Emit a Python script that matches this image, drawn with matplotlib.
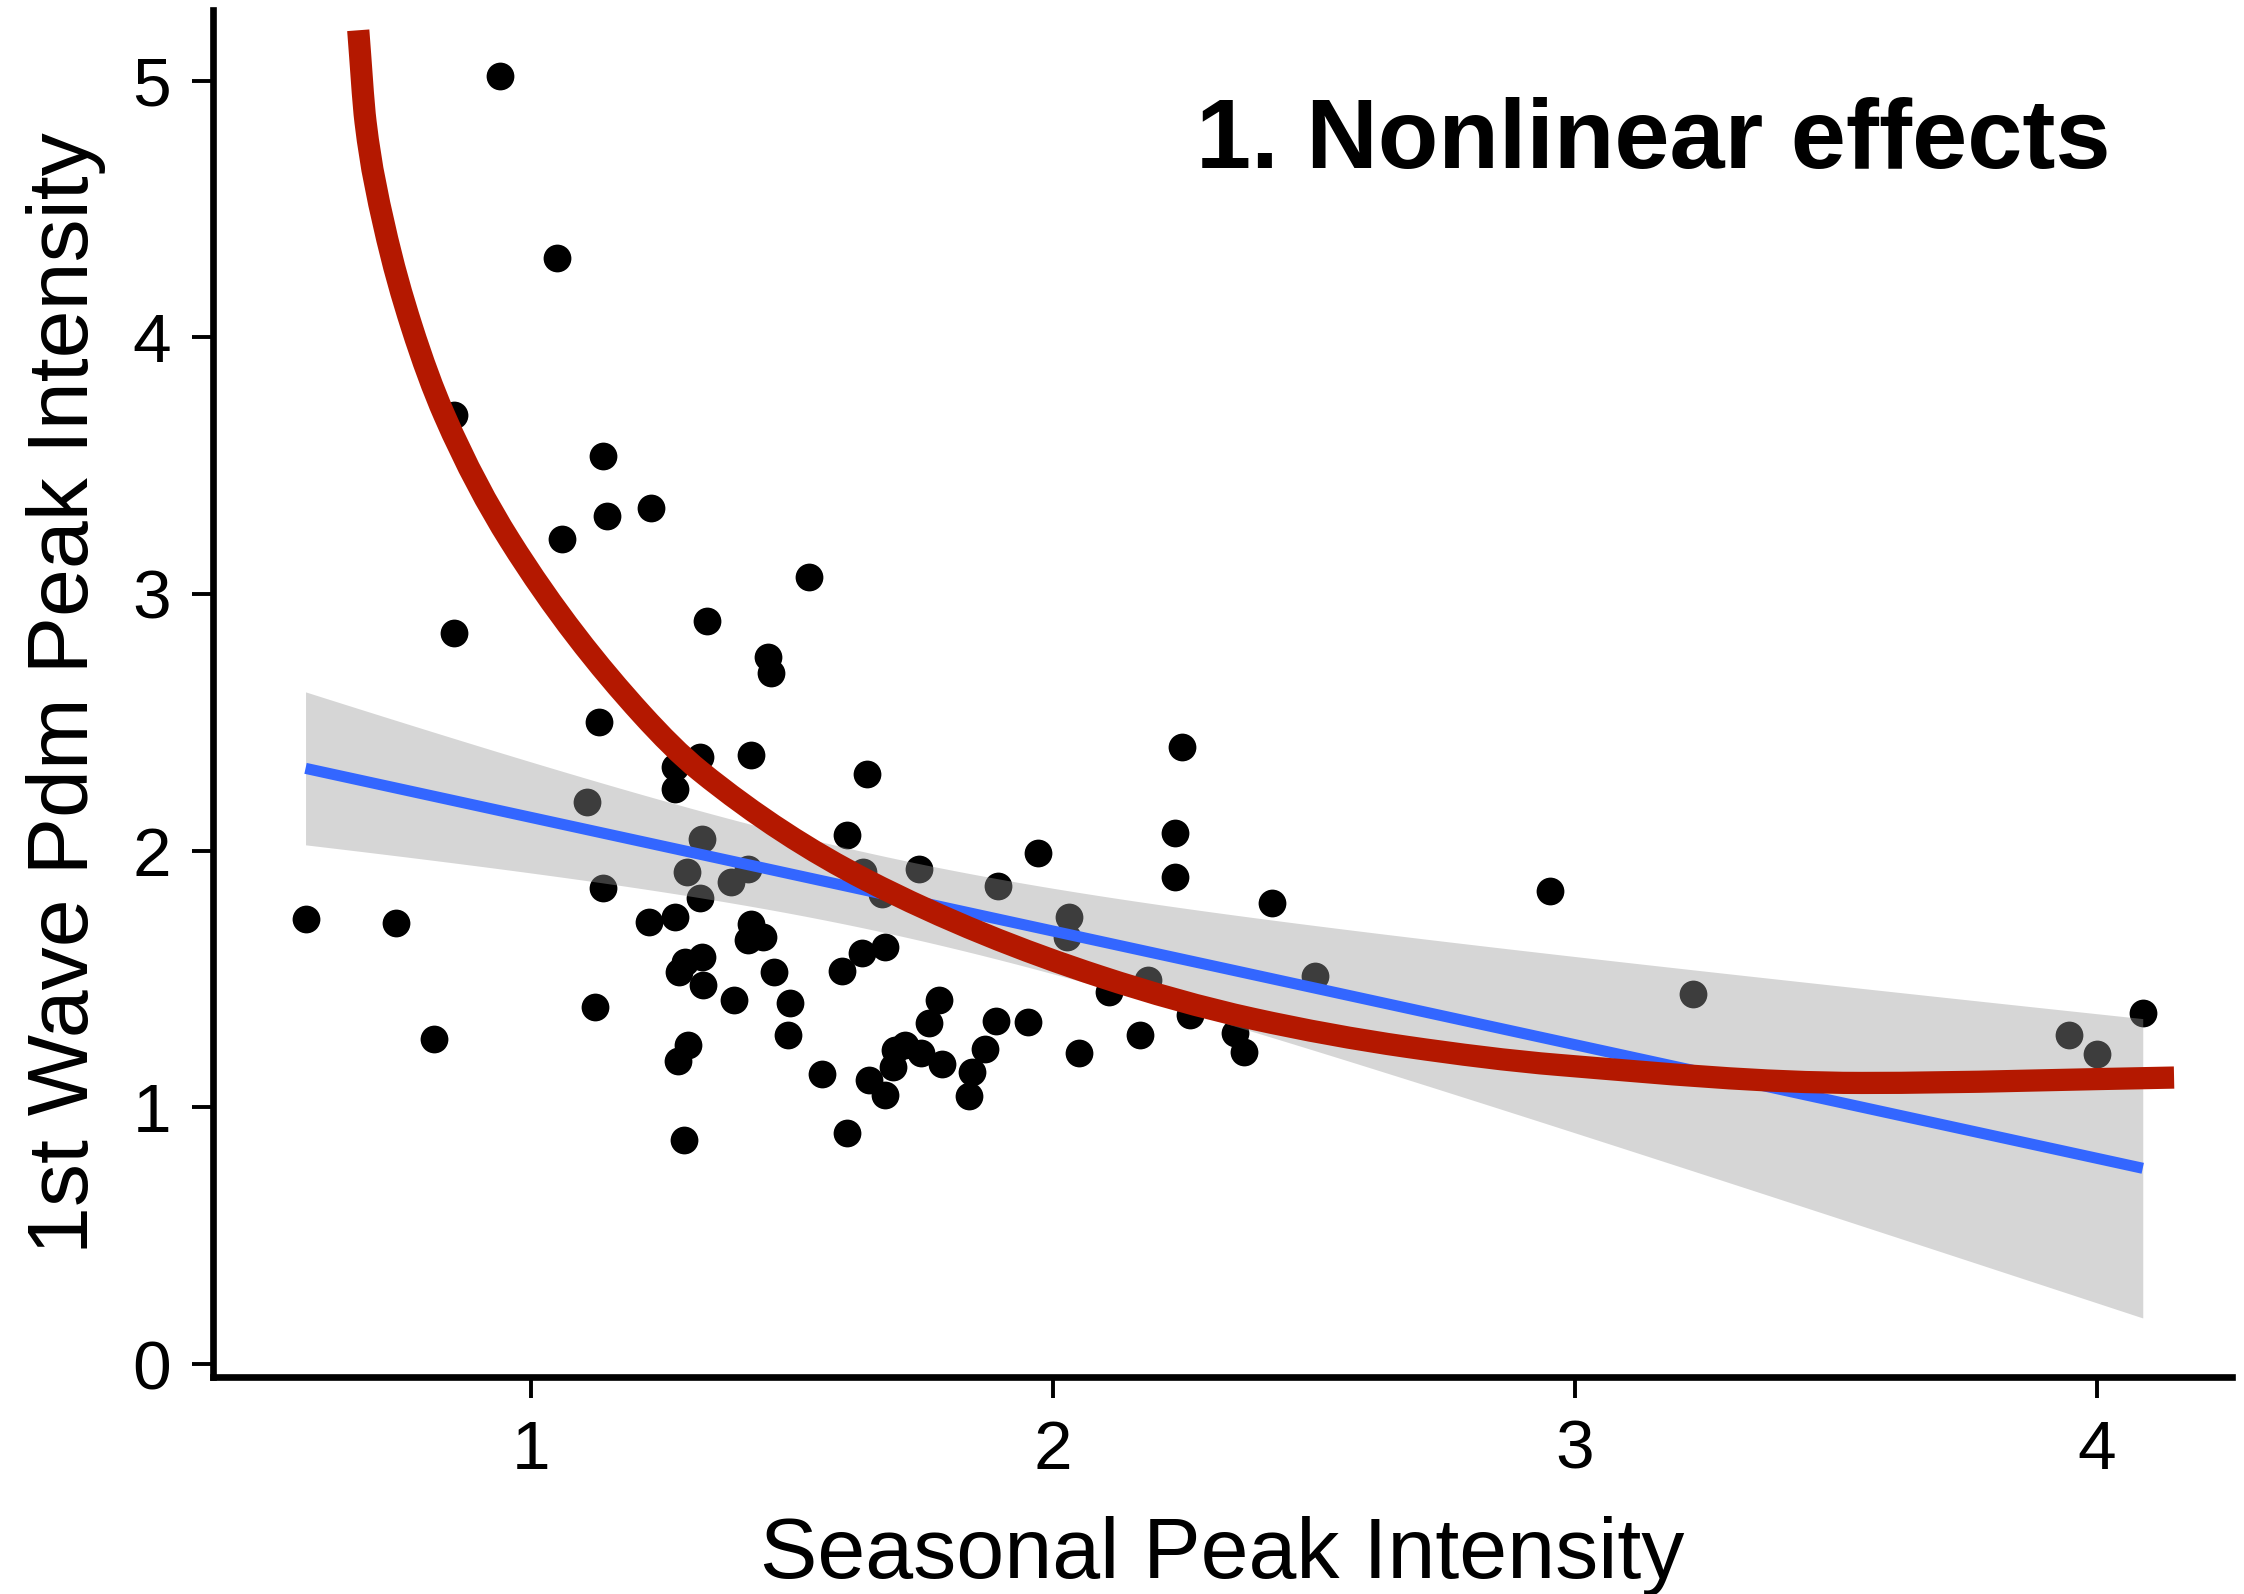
import numpy as np
import matplotlib
matplotlib.use("Agg")
import matplotlib.pyplot as plt
from matplotlib.path import Path
from matplotlib.patches import PathPatch

plt.rcParams['font.family'] = ['Liberation Sans', 'DejaVu Sans']

# ---- data ----
seasonal_peak = [
    1.130, 1.324, 1.276, 1.421, 1.275, 1.644, 1.108, 1.328, 1.606, 1.137,
    1.298, 1.416, 1.383, 1.323, 1.636, 1.672, 1.744, 1.227, 1.276, 1.421,
    1.445, 1.416, 1.678, 1.634, 1.595, 1.327, 1.295, 1.284, 1.330, 1.466,
    1.123, 1.388, 1.496, 1.492, 1.300, 1.282, 1.557, 1.293, 1.606, 1.782,
    1.763, 1.717, 1.697, 1.747, 1.694, 1.787, 1.648, 1.678,
    2.247, 2.234, 2.234, 1.971, 2.420, 1.895, 2.031, 2.026, 2.183, 2.108,
    2.263, 2.349, 2.366, 2.167, 2.049, 1.953, 1.890, 1.870, 1.844, 1.840,
    2.953, 2.503,
    3.226, 3.946, 4.001, 4.088,
    0.941, 1.049, 0.853, 1.137, 1.230, 1.146, 1.060, 1.533, 0.852, 1.337,
    1.455, 1.459,
    0.568, 0.741, 0.814,
]
first_wave_peak = [
    2.502, 2.366, 2.327, 2.372, 2.240, 2.298, 2.190, 2.044, 2.061, 1.853,
    1.918, 1.927, 1.879, 1.814, 1.918, 1.833, 1.927, 1.723, 1.743, 1.716,
    1.665, 1.652, 1.626, 1.600, 1.532, 1.587, 1.567, 1.528, 1.476, 1.528,
    1.392, 1.418, 1.405, 1.282, 1.243, 1.180, 1.130, 0.873, 0.899, 1.418,
    1.327, 1.243, 1.223, 1.210, 1.158, 1.167, 1.106, 1.048,
    2.405, 2.067, 1.896, 1.989, 1.795, 1.862, 1.740, 1.665, 1.496, 1.451,
    1.360, 1.288, 1.214, 1.282, 1.210, 1.331, 1.337, 1.226, 1.136, 1.043,
    1.844, 1.511,
    1.440, 1.281, 1.207, 1.369,
    5.018, 4.307, 3.696, 3.538, 3.336, 3.302, 3.214, 3.066, 2.849, 2.893,
    2.754, 2.691,
    1.733, 1.717, 1.265,
]

# nonlinear curve: points (drawn as a smooth line)
curve_x = [0.669, 0.683, 0.718, 0.771, 0.834, 0.959, 1.213, 1.324, 1.643,
           2.090, 2.383, 2.677, 2.970, 3.550, 4.148]
curve_y = [5.196, 4.838, 4.441, 4.044, 3.696, 3.210, 2.530, 2.310, 1.885,
           1.510, 1.345, 1.236, 1.165, 1.095, 1.116]

x_ticks = [1, 2, 3, 4]
y_ticks = [0, 1, 2, 3, 4, 5]
title_text = "1. Nonlinear effects"
x_label = "Seasonal Peak Intensity"
y_label = "1st Wave Pdm Peak Intensity"

# ---- linear fit with 95% confidence band (as geom_smooth(method='lm')) ----
xs = np.array(seasonal_peak)
ys = np.array(first_wave_peak)
n = len(xs)
slope, intercept = np.polyfit(xs, ys, 1)
resid = ys - (slope * xs + intercept)
s = np.sqrt(np.sum(resid ** 2) / (n - 2))
xbar = xs.mean()
sxx = np.sum((xs - xbar) ** 2)
t_crit = 1.9876
grid = np.linspace(xs.min(), xs.max(), 200)
fit = slope * grid + intercept
half = t_crit * s * np.sqrt(1.0 / n + (grid - xbar) ** 2 / sxx)


def smooth_path(px, py):
    """Monotone cubic (Fritsch-Carlson) Hermite segments rendered as Bezier curves."""
    px = np.asarray(px, float)
    py = np.asarray(py, float)
    h = np.diff(px)
    d = np.diff(py) / h
    m = np.zeros_like(px)
    m[0], m[-1] = d[0], d[-1]
    for i in range(1, len(px) - 1):
        if d[i - 1] * d[i] <= 0:
            m[i] = 0.0
        else:
            w1 = 2 * h[i] + h[i - 1]
            w2 = h[i] + 2 * h[i - 1]
            m[i] = (w1 + w2) / (w1 / d[i - 1] + w2 / d[i])
    verts = [(px[0], py[0])]
    codes = [Path.MOVETO]
    for i in range(len(px) - 1):
        verts += [(px[i] + h[i] / 3, py[i] + m[i] * h[i] / 3),
                  (px[i + 1] - h[i] / 3, py[i + 1] - m[i + 1] * h[i] / 3),
                  (px[i + 1], py[i + 1])]
        codes += [Path.CURVE4] * 3
    return Path(verts, codes)


# ---- figure ----
W, H, DPI = 2244, 1594, 200
fig = plt.figure(figsize=(W / DPI, H / DPI), dpi=DPI)
ax = fig.add_axes([213 / W, 1 - 1377 / H, (2232 - 213) / W, (1377 - 10) / H])

ax.scatter(xs, ys, s=100, color='black', linewidths=0, zorder=2)
ax.fill_between(grid, fit - half, fit + half, color='#999999', alpha=0.4,
                linewidth=0, zorder=3)
ax.plot(grid, fit, color='#3366FF', linewidth=4.0, zorder=4,
        solid_capstyle='butt')
ax.add_patch(PathPatch(smooth_path(curve_x, curve_y), facecolor='none',
                       edgecolor='#B41800', linewidth=8.0, capstyle='butt',
                       joinstyle='round', zorder=5))

ax.set_xlim(0.3907, 4.259)
ax.set_ylim(-0.0506, 5.275)
ax.set_xticks(x_ticks)
ax.set_yticks(y_ticks)
ax.set_xticklabels([str(v) for v in x_ticks])
ax.set_yticklabels([str(v) for v in y_ticks])

for side in ['top', 'right']:
    ax.spines[side].set_visible(False)
for side in ['left', 'bottom']:
    ax.spines[side].set_linewidth(2.4)
    ax.spines[side].set_color('black')
ax.tick_params(axis='both', which='major', length=7.6, width=1.4,
               color='black', labelsize=25, labelcolor='black', pad=7.4)

ax.set_xlabel(x_label, fontsize=31, va='baseline')
ax.xaxis.set_label_coords(0.5, -0.147)
ax.set_ylabel(y_label, fontsize=31, va='baseline')
ax.yaxis.set_label_coords(-0.0619, 0.5)

ax.text(4.027, 4.66, title_text, fontsize=35.7, fontweight='bold', ha='right',
        va='baseline', color='black', zorder=6)

fig.savefig("out.png", dpi=DPI)
